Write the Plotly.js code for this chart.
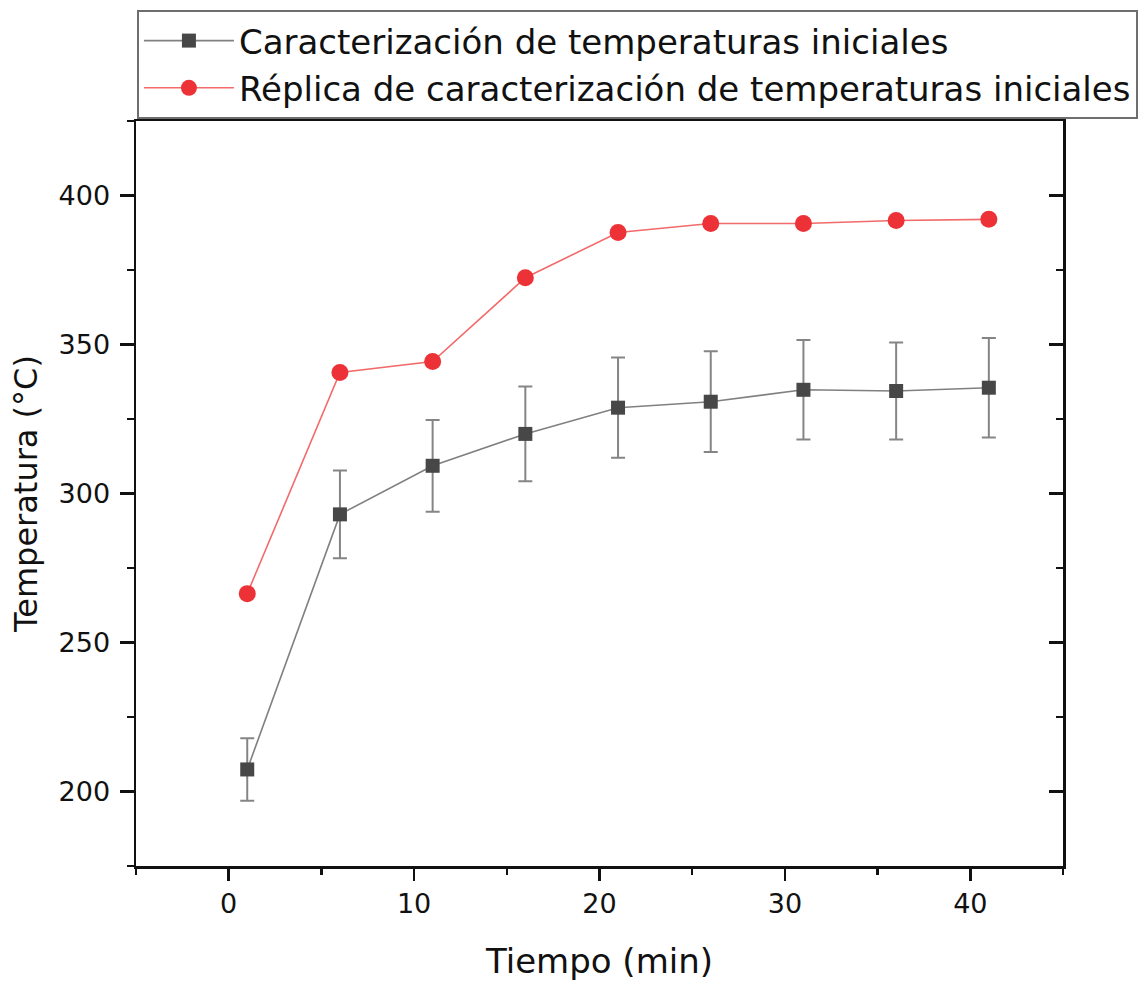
<!DOCTYPE html>
<html>
<head>
<meta charset="utf-8">
<script src="https://cdn.plot.ly/plotly-3.0.1.min.js"></script>
<style>
  html, body { margin: 0; padding: 0; background: #ffffff; }
  #chart { width: 1145px; height: 986px; }
</style>
</head>
<body>
<div id="chart"></div>
<script>
// Tiempo de medición (min)
const tiempo = [1, 6, 11, 16, 21, 26, 31, 36, 41];

// Caracterización de temperaturas iniciales: media y desviación (°C)
const caracterizacion = [207.4, 293.0, 309.3, 320.0, 328.8, 330.8, 334.8, 334.4, 335.5];
const desviacion = [10.5, 14.7, 15.4, 15.9, 16.8, 16.9, 16.7, 16.3, 16.7];

// Réplica de caracterización (°C)
const replica = [266.4, 340.6, 344.3, 372.4, 387.6, 390.6, 390.6, 391.6, 392.0];

const nombres = [
  'Caracterización de temperaturas iniciales',
  'Réplica de caracterización de temperaturas iniciales'
];

const FONT = '"DejaVu Sans", "Liberation Sans", Arial, sans-serif';

const traces = [
  {
    x: tiempo,
    y: caracterizacion,
    name: nombres[0],
    type: 'scatter',
    mode: 'lines+markers',
    line: { color: '#808080', width: 1.6 },
    marker: { symbol: 'square', size: 14, color: '#474747' },
    error_y: {
      type: 'data',
      array: desviacion,
      visible: true,
      color: '#858585',
      thickness: 2,
      width: 7
    }
  },
  {
    x: tiempo,
    y: replica,
    name: nombres[1],
    type: 'scatter',
    mode: 'lines+markers',
    line: { color: '#f26a6a', width: 1.6 },
    marker: { symbol: 'circle', size: 17, color: '#ec3237' }
  },
  // carries the right-hand frame axis (draws nothing itself)
  {
    x: tiempo,
    y: replica,
    yaxis: 'y2',
    type: 'scatter',
    mode: 'none',
    showlegend: false,
    hoverinfo: 'skip'
  }
];

const layout = {
  width: 1145,
  height: 986,
  paper_bgcolor: '#ffffff',
  plot_bgcolor: '#ffffff',
  margin: { l: 136, r: 82, t: 121, b: 120, autoexpand: false },
  font: { family: FONT, color: '#111111' },
  showlegend: true,
  legend: {
    x: 0.001, xanchor: 'left',
    y: 1.149, yanchor: 'top',
    xref: 'paper', yref: 'paper',
    bgcolor: '#ffffff',
    bordercolor: '#6e6e6e',
    borderwidth: 2,
    itemwidth: 90,
    font: { family: FONT, size: 34, color: '#111111' },
    tracegroupgap: 0
  },
  xaxis: {
    range: [-5, 45],
    dtick: 10,
    tick0: 0,
    showgrid: false,
    zeroline: false,
    showline: true,
    linecolor: '#111111',
    linewidth: 2.5,
    mirror: true,
    ticks: 'outside',
    ticklen: 12,
    tickwidth: 2.5,
    tickcolor: '#111111',
    minor: { dtick: 5, tick0: 0, ticks: 'outside', ticklen: 6, tickwidth: 2.5, tickcolor: '#111111', showgrid: false },
    tickfont: { family: FONT, size: 27, color: '#111111' },
    automargin: false,
    title: { text: 'Tiempo (min)', font: { family: FONT, size: 34, color: '#111111' }, standoff: 32 }
  },
  yaxis: {
    range: [175, 425],
    dtick: 50,
    tick0: 0,
    showgrid: false,
    zeroline: false,
    showline: true,
    linecolor: '#111111',
    linewidth: 2.5,
    mirror: true,
    ticks: 'outside',
    ticklen: 14,
    tickwidth: 2.5,
    tickcolor: '#111111',
    minor: { dtick: 25, tick0: 0, ticks: 'outside', ticklen: 7, tickwidth: 2.5, tickcolor: '#111111', showgrid: false },
    tickfont: { family: FONT, size: 27, color: '#111111' },
    ticklabelstandoff: 4,
    automargin: false,
    title: { text: 'Temperatura (°C)', font: { family: FONT, size: 32, color: '#111111' }, standoff: 12 }
  },
  // right-hand frame ticks point into the plot
  yaxis2: {
    overlaying: 'y',
    side: 'right',
    anchor: 'x',
    range: [175, 425],
    dtick: 50,
    tick0: 0,
    showgrid: false,
    zeroline: false,
    showline: false,
    ticks: 'inside',
    ticklen: 14,
    tickwidth: 2.5,
    tickcolor: '#111111',
    minor: { dtick: 25, tick0: 0, ticks: 'inside', ticklen: 7, tickwidth: 2.5, tickcolor: '#111111', showgrid: false },
    showticklabels: false,
    automargin: false
  }
};

Plotly.newPlot('chart', traces, layout, { displayModeBar: false, staticPlot: true });
</script>
</body>
</html>
